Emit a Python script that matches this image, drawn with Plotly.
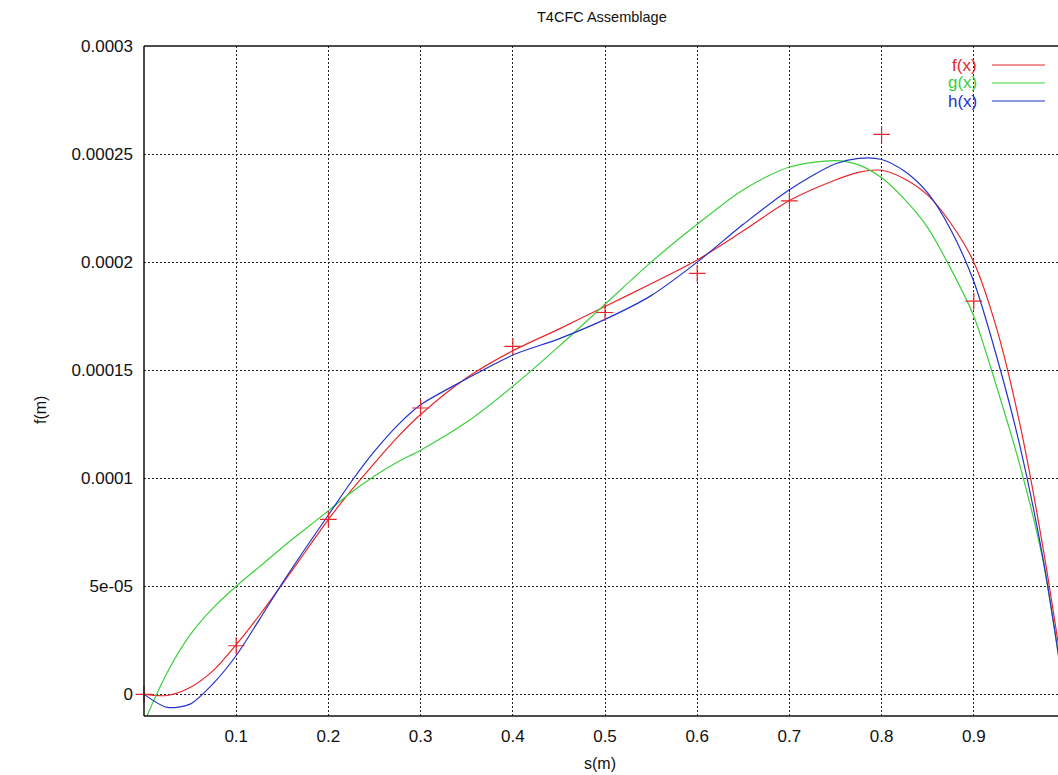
import plotly.graph_objects as go

# sample positions along s (m)
s_curve = [0, 0.025, 0.05, 0.075, 0.1, 0.125, 0.15, 0.175, 0.2, 0.225, 0.25, 0.275, 0.3,
           0.35, 0.4, 0.45, 0.5, 0.55, 0.6, 0.65, 0.7, 0.75, 0.775, 0.8, 0.825, 0.85,
           0.875, 0.9, 0.925, 0.95, 0.975, 1.0]
# curve values in units of 1e-5 m
f_vals = [0, -0.05, 0.32, 1.1, 2.3, 3.65, 5.1, 6.6, 8.1, 9.45, 10.7, 11.9, 12.95,
          14.65, 15.9, 16.9, 17.95, 19.0, 20.1, 21.45, 22.85, 23.8, 24.15, 24.25, 23.85,
          23.1, 21.8, 20.0, 16.9, 12.5, 6.8, 0.0]
g_vals = [-1.3, 1.0, 2.75, 4.0, 5.0, 5.9, 6.8, 7.65, 8.5, 9.35, 10.1, 10.75, 11.3,
          12.6, 14.25, 16.1, 18.05, 20.0, 21.75, 23.35, 24.4, 24.7, 24.5, 23.9, 22.9,
          21.6, 19.7, 17.5, 14.2, 10.6, 6.2, -0.6]
h_vals = [0, -0.6, -0.45, 0.5, 1.8, 3.45, 5.15, 6.75, 8.3, 9.85, 11.25, 12.45, 13.4,
          14.6, 15.7, 16.45, 17.35, 18.45, 20.0, 21.75, 23.35, 24.55, 24.8, 24.75, 24.2,
          23.2, 21.5, 19.1, 15.6, 11.5, 6.3, -0.5]

# measured points (red crosses), units of 1e-5 m
s_pts = [0, 0.1, 0.2, 0.3, 0.4, 0.5, 0.6, 0.7, 0.8, 0.9]
f_pts = [0, 2.25, 8.1, 13.25, 16.1, 17.67, 19.48, 22.83, 25.91, 18.2]

x_ticks = [0.1, 0.2, 0.3, 0.4, 0.5, 0.6, 0.7, 0.8, 0.9]
x_labels = ["0.1", "0.2", "0.3", "0.4", "0.5", "0.6", "0.7", "0.8", "0.9"]
y_ticks = [0, 5e-5, 1e-4, 1.5e-4, 2e-4, 2.5e-4, 3e-4]
y_labels = ["0", "5e-05", "0.0001", "0.00015", "0.0002", "0.00025", "0.0003"]

RED, GREEN, BLUE = "#e8262a", "#3ccf3c", "#2233cc"
FONT = "Liberation Sans"

sc = 1e-5
fig = go.Figure()
for name, vals, col in [("f(x)", f_vals, RED), ("g(x)", g_vals, GREEN), ("h(x)", h_vals, BLUE)]:
    fig.add_trace(go.Scatter(x=s_curve, y=[v * sc for v in vals], mode="lines", name=name,
                             line=dict(color=col, width=1.2, shape="spline", smoothing=0.8),
                             showlegend=False))
fig.add_trace(go.Scatter(x=s_pts, y=[v * sc for v in f_pts], mode="markers", showlegend=False,
                         marker=dict(symbol="cross-thin", size=12, color=RED,
                                     line=dict(color=RED, width=1.2)),
                         cliponaxis=False))

L, R, T, B = 144, 0, 46, 59
W, H = 1058, 775
pw, ph = W - L - R, H - T - B

def px(x):
    return (x - L) / pw

def py(y):
    return (H - B - y) / ph

grid = dict(showgrid=True, gridcolor="#222", gridwidth=1, griddash="2px,2px",
            zeroline=False, ticks="", showline=False,
            tickfont=dict(family=FONT, size=17, color="#111"))
fig.update_xaxes(range=[0, pw / 922.0], tickvals=x_ticks, ticktext=x_labels,
                 ticklabelstandoff=8, **grid)
fig.update_yaxes(range=[-1e-5, 3e-4], tickvals=y_ticks, ticktext=y_labels,
                 ticklabelstandoff=10, **grid)

shapes = [
    dict(type="line", xref="paper", yref="paper", x0=0, x1=0, y0=0, y1=1,
         line=dict(color="#111", width=1.5)),
    dict(type="line", xref="paper", yref="paper", x0=0, x1=1, y0=0, y1=0,
         line=dict(color="#111", width=1.5)),
    dict(type="line", xref="paper", yref="paper", x0=0, x1=1, y0=1, y1=1,
         line=dict(color="#111", width=1.5)),
]
annotations = [
    dict(text="T4CFC Assemblage", xref="paper", yref="paper", x=px(602), y=py(17),
         xanchor="center", yanchor="middle",
         showarrow=False, font=dict(family=FONT, size=14.5, color="#111")),
    dict(text="s(m)", xref="paper", yref="paper", x=px(600), y=py(763),
         xanchor="center", yanchor="middle",
         showarrow=False, font=dict(family=FONT, size=16, color="#111")),
    dict(text="f(m)", xref="paper", yref="paper", x=px(40), y=py(410), textangle=-90,
         xanchor="center", yanchor="middle",
         showarrow=False, font=dict(family=FONT, size=16, color="#111")),
]
for i, (name, col) in enumerate([("f(x)", RED), ("g(x)", GREEN), ("h(x)", BLUE)]):
    yy = 65 + 18 * i
    annotations.append(dict(text=name, xref="paper", yref="paper", x=px(979), y=py(yy),
                            xanchor="right", yanchor="middle", showarrow=False,
                            font=dict(family=FONT, size=17, color=col)))
    shapes.append(dict(type="line", xref="paper", yref="paper", x0=px(992), x1=px(1045),
                       y0=py(yy), y1=py(yy), line=dict(color=col, width=1.2)))

fig.update_layout(width=W, height=H, margin=dict(l=L, r=R, t=T, b=B),
                  plot_bgcolor="white", paper_bgcolor="white",
                  shapes=shapes, annotations=annotations,
                  font=dict(family=FONT))
fig.write_html("out.html")
